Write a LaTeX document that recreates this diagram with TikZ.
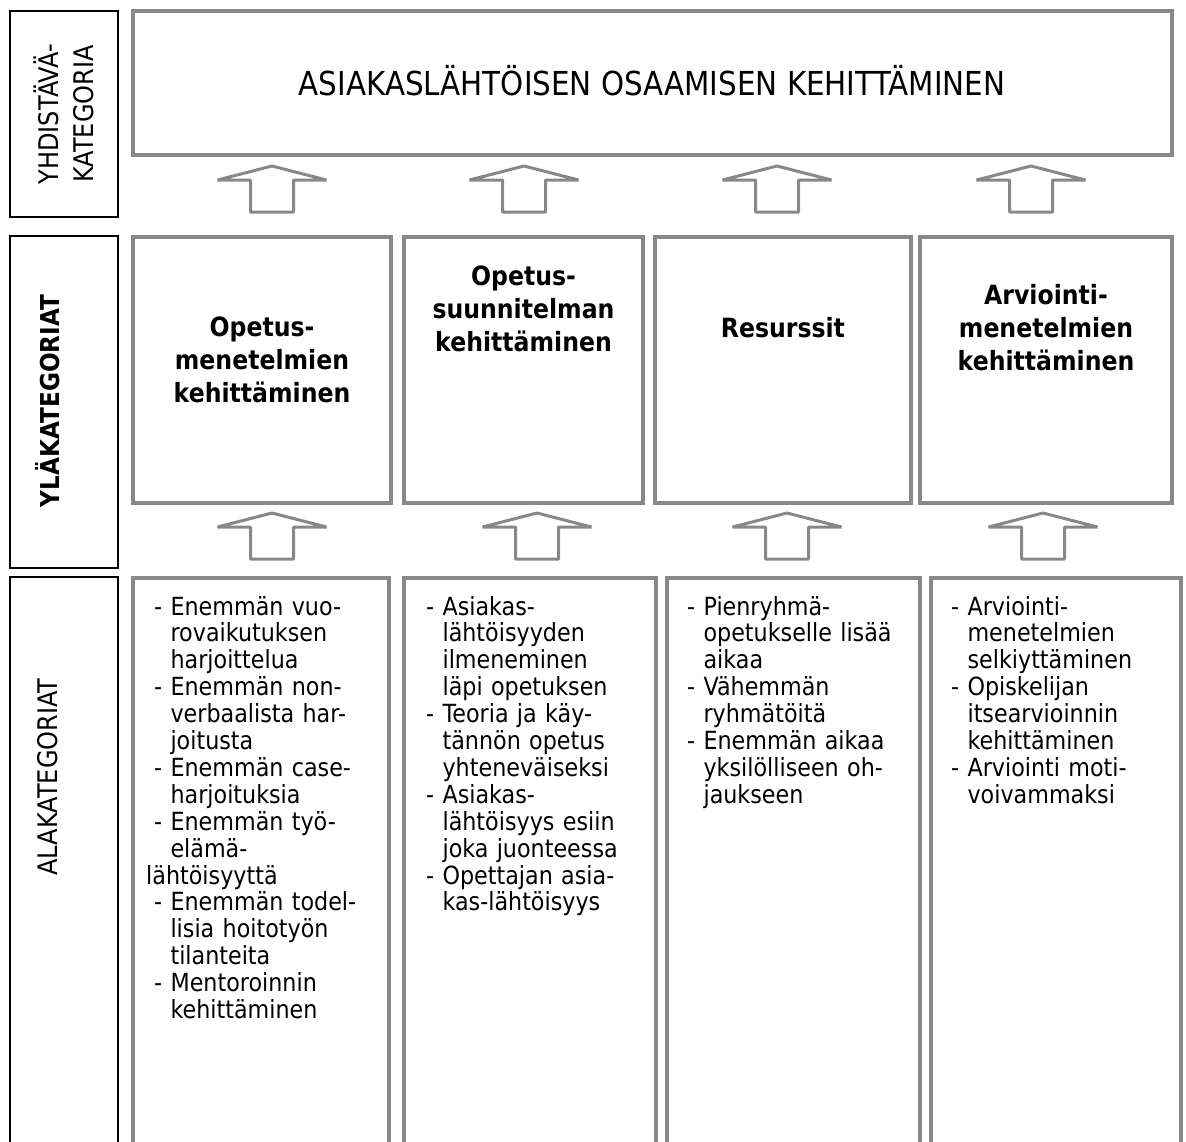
\documentclass[tikz,border=0pt]{standalone}
\usepackage{fontspec}
\setmainfont{DejaVu Sans}[FakeStretch=0.89]
\definecolor{boxgrey}{HTML}{888888}
\newcommand\ind{\phantom{- }}
\begin{document}
\begin{tikzpicture}[x=1pt,y=-1pt,
  greybox/.style={draw=boxgrey, line width=3.4pt, fill=white, inner sep=0pt},
  labelbox/.style={draw=black, line width=1.6pt, inner sep=0pt},
  openbox/.style={draw=boxgrey, line width=3.4pt},
  openlabel/.style={draw=black, line width=1.6pt},
  uparrow/.style={draw=boxgrey, line width=3pt, line join=bevel, fill=white},
  sidelabel/.style={rotate=90, align=center, inner sep=0pt,
    font=\fontsize{27}{35}\selectfont},
  headtext/.style={anchor=base, align=center, text width=250pt, inner sep=0pt,
    font=\bfseries\fontsize{26.5}{33}\selectfont},
  coltext/.style={anchor=base west, align=left, text width=240pt, inner sep=0pt,
    font=\fontsize{25}{26.9}\selectfont},
]
\useasboundingbox (0,0) rectangle (1186,1141);

% side labels
\node[labelbox, minimum width=108pt, minimum height=206pt] (labA) at (64,114) {};
\node[labelbox, minimum width=108pt, minimum height=332pt] (labB) at (64,402) {};
\draw[openlabel] (10,1150) -- (10,577) -- (118,577) -- (118,1150);
\node[sidelabel] (tA) at (63.5,114) {YHDISTÄVÄ-\\KATEGORIA};
\node[sidelabel, font=\bfseries\fontsize{26}{35}\selectfont] (tB) at (48,401) {YLÄKATEGORIAT};
\node[sidelabel] (tC) at (48,777) {ALAKATEGORIAT};

% combining category
\node[greybox, minimum width=1039pt, minimum height=144pt] (top) at (652.5,83) {};
\node[inner sep=0pt, font=\fontsize{33}{36}\selectfont] (toptext) at (652,81)
  {ASIAKASLÄHTÖISEN OSAAMISEN KEHITTÄMINEN};

% upper categories
\node[greybox, minimum width=258pt, minimum height=266pt] (m1) at (262,370) {};
\node[greybox, minimum width=239pt, minimum height=266pt] (m2) at (523.5,370) {};
\node[greybox, minimum width=256pt, minimum height=266pt] (m3) at (783,370) {};
\node[greybox, minimum width=252pt, minimum height=266pt] (m4) at (1046,370) {};
\node[headtext] (h1) at (262,336) {Opetus-\\menetelmien\\kehittäminen};
\node[headtext] (h2) at (523.5,285) {Opetus-\\suunnitelman\\kehittäminen};
\node[headtext] (h3) at (783,337) {Resurssit};
\node[headtext] (h4) at (1046,304) {Arviointi-\\menetelmien\\kehittäminen};

% subcategories (open at the bottom)
\draw[openbox] (133,1150) -- (133,578) -- (389,578) -- (389,1150);
\draw[openbox] (404,1150) -- (404,578) -- (656,578) -- (656,1150);
\draw[openbox] (667,1150) -- (667,578) -- (920,578) -- (920,1150);
\draw[openbox] (931,1150) -- (931,578) -- (1181,578) -- (1181,1150);

\node[coltext] (c1) at (154,615) {- Enemmän vuo-\\ \ind rovaikutuksen\\ \ind harjoittelua\\
  - Enemmän non-\\ \ind verbaalista har-\\ \ind joitusta\\
  - Enemmän case-\\ \ind harjoituksia\\
  - Enemmän työ-\\ \ind elämä-\\ \hspace*{-8pt}lähtöisyyttä\\
  - Enemmän todel-\\ \ind lisia hoitotyön\\ \ind tilanteita\\
  - Mentoroinnin\\ \ind kehittäminen};
\node[coltext] (c2) at (426,615) {- Asiakas-\\ \ind lähtöisyyden\\ \ind ilmeneminen\\ \ind läpi opetuksen\\
  - Teoria ja käy-\\ \ind tännön opetus\\ \ind yhteneväiseksi\\
  - Asiakas-\\ \ind lähtöisyys esiin\\ \ind joka juonteessa\\
  - Opettajan asia-\\ \ind kas-lähtöisyys};
\node[coltext] (c3) at (687,615) {- Pienryhmä-\\ \ind opetukselle lisää\\ \ind aikaa\\
  - Vähemmän\\ \ind ryhmätöitä\\
  - Enemmän aikaa\\ \ind yksilölliseen oh-\\ \ind jaukseen};
\node[coltext] (c4) at (951,615) {- Arviointi-\\ \ind menetelmien\\ \ind selkiyttäminen\\
  - Opiskelijan\\ \ind itsearvioinnin\\ \ind kehittäminen\\
  - Arviointi moti-\\ \ind voivammaksi};

% block arrows pointing upwards
\newcommand\blockarrow[2]{%
  \draw[uparrow] (#1,#2) -- ++(54.5,14) -- ++(-33,0) -- ++(0,32) -- ++(-43,0)
    -- ++(0,-32) -- ++(-33,0) -- cycle;}
\blockarrow{272}{166}
\blockarrow{524}{166}
\blockarrow{777}{166}
\blockarrow{1031}{166}
\blockarrow{272}{513}
\blockarrow{537}{513}
\blockarrow{787}{513}
\blockarrow{1043}{513}
\end{tikzpicture}
\end{document}
